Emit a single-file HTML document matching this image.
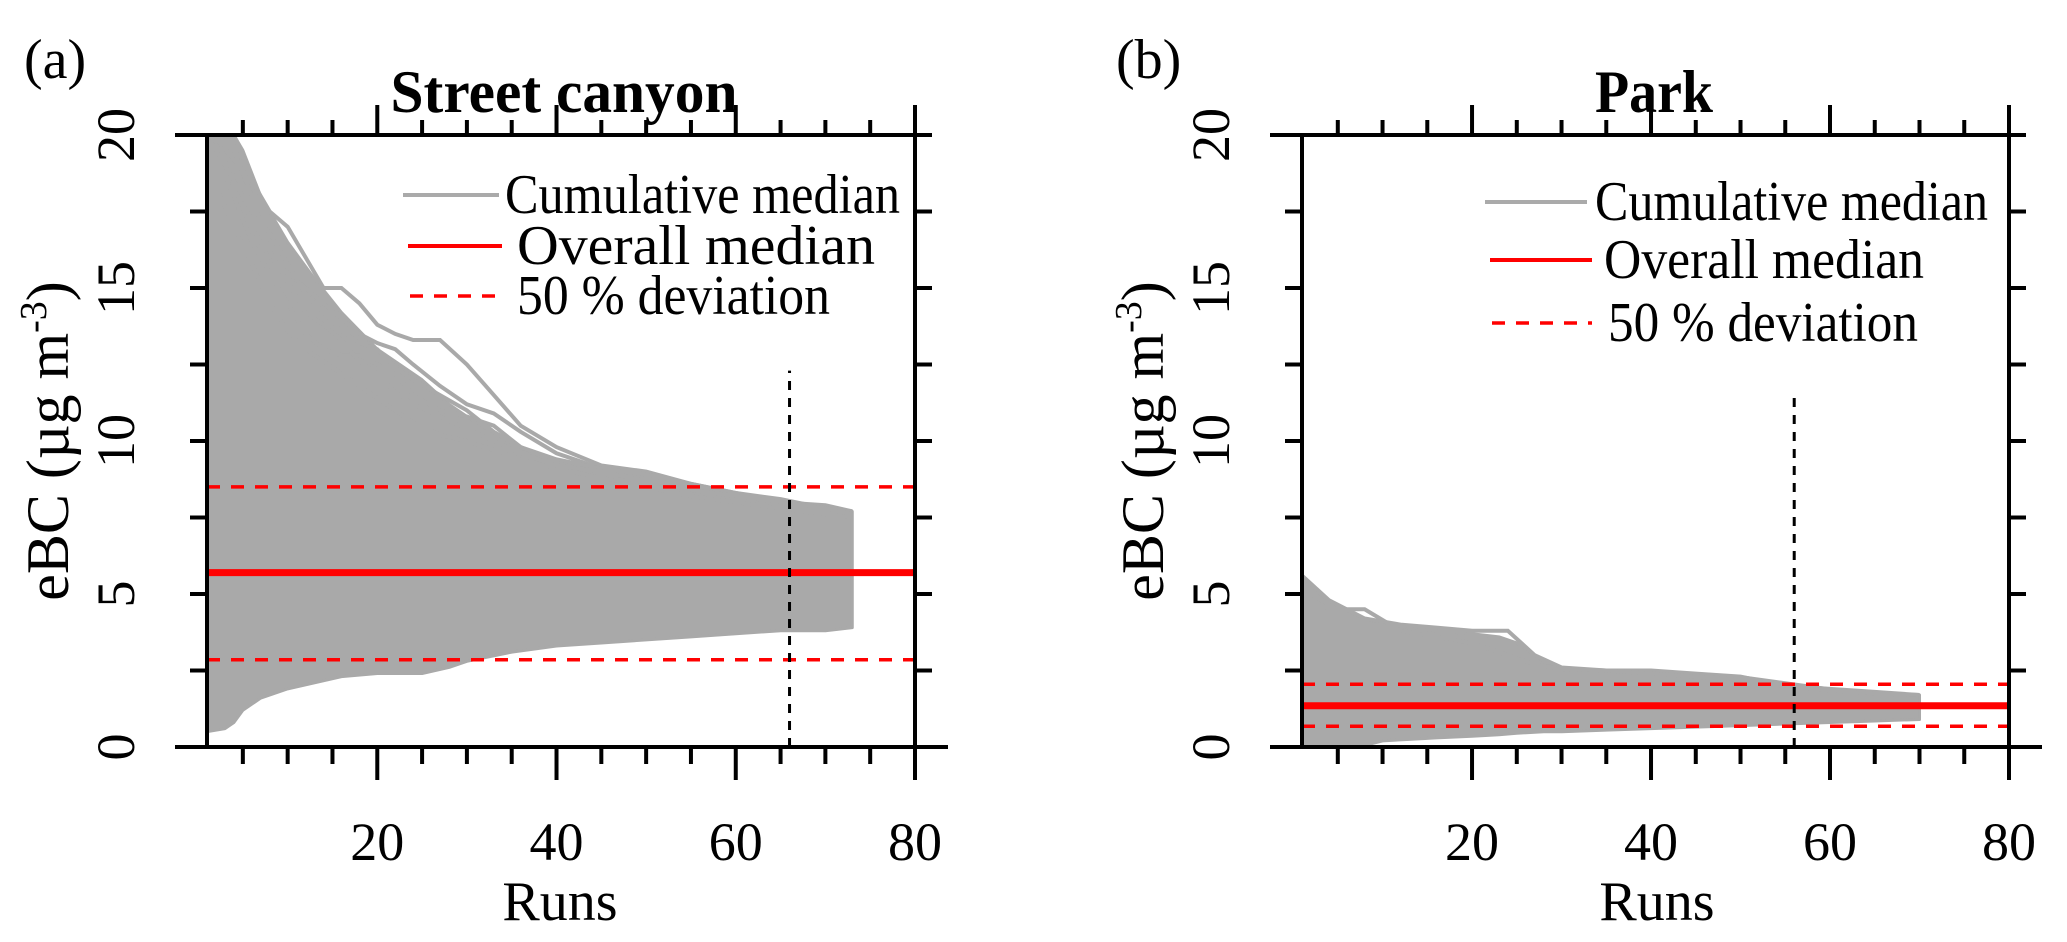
<!DOCTYPE html>
<html><head><meta charset="utf-8"><style>
html,body{margin:0;padding:0;background:#fff;}
svg{display:block;font-family:"Liberation Serif","DejaVu Serif",serif;}
</style></head><body>
<svg id="chart" width="2067" height="942" viewBox="0 0 2067 942" xmlns="http://www.w3.org/2000/svg"></svg>
<script>
// ---- data ----
const envXA = [1, 3, 4, 5, 7, 10, 13, 16, 20, 25, 28, 30, 35, 40, 45, 50, 55, 60, 65, 70, 73];
const envUpperA = [20, 20, 20, 19.5, 18, 16.5, 15.3, 14.2, 13, 12, 11.2, 10.8, 9.9, 9.3, 9.0, 8.7, 8.4, 8.2, 8.0, 7.9, 7.7];
const envLowerA = [0.5, 0.6, 0.8, 1.2, 1.6, 1.9, 2.1, 2.3, 2.4, 2.4, 2.6, 2.8, 3.1, 3.3, 3.4, 3.5, 3.6, 3.7, 3.8, 3.8, 3.9];
const curveXA = [1, 4, 6, 8, 10, 12, 14, 16, 18, 20, 22, 24, 27, 30, 33, 36, 40, 45, 50, 55, 60, 65, 70, 73];
const curvesA = [
  [20, 20, 18.5, 17.5, 17, 16, 15, 15, 14.5, 13.8, 13.5, 13.3, 13.3, 12.5, 11.5, 10.5, 9.8, 9.2, 9.0, 8.6, 8.3, 8.0, 7.9, 7.7],
  [20, 19, 17, 16, 15.5, 15, 14.5, 14, 13.5, 13.2, 13, 12.5, 11.8, 11.2, 10.9, 10.3, 9.6, 9.1, 8.8, 8.5, 8.2, 8.0, 7.8, 7.6],
  [20, 18, 16.5, 15.5, 14.5, 13.5, 13, 12.8, 12.8, 12.5, 12.2, 11.5, 11, 10.8, 10.5, 9.8, 9.3, 8.9, 8.6, 8.3, 8.1, 7.9, 7.7, 7.6],
  [19, 17, 15.8, 14.5, 13.6, 13, 12.6, 12.2, 11.8, 11.4, 11, 10.6, 10.2, 10, 9.7, 9.4, 9.1, 8.8, 8.5, 8.2, 8.0, 7.8, 7.6, 7.5],
  [20, 18.5, 17.5, 16.8, 15.8, 14.8, 14.2, 13.6, 13.2, 13.0, 12.4, 12.0, 11.5, 11.0, 10.3, 9.8, 9.4, 9.1, 8.9, 8.6, 8.3, 8.1, 7.8, 7.7],
  [20, 19.5, 18, 16.2, 15.2, 14.2, 13.8, 13.3, 12.6, 12.2, 11.6, 11.2, 10.8, 10.4, 10.0, 9.6, 9.2, 9.0, 8.7, 8.4, 8.2, 8.0, 7.8, 7.6]
];
const envXB = [1, 3, 5, 8, 10, 13, 16, 20, 23, 25, 28, 30, 35, 40, 45, 50, 55, 60, 65, 70];
const envUpperB = [5.6, 5.0, 4.6, 4.2, 4.0, 3.9, 3.8, 3.7, 3.6, 3.4, 2.8, 2.6, 2.5, 2.45, 2.4, 2.3, 2.1, 1.9, 1.8, 1.7];
const envLowerB = [0, 0, 0, 0.05, 0.2, 0.25, 0.3, 0.35, 0.4, 0.45, 0.5, 0.5, 0.55, 0.6, 0.65, 0.7, 0.75, 0.8, 0.85, 0.9];
const curveXB = [1, 4, 8, 12, 16, 20, 24, 27, 30, 35, 40, 45, 50, 55, 60, 65, 70];
const curvesB = [
  [5.6, 4.8, 4.2, 4.0, 3.9, 3.8, 3.8, 3.0, 2.6, 2.5, 2.5, 2.4, 2.3, 2.0, 1.9, 1.8, 1.7],
  [5.0, 4.5, 4.5, 3.8, 3.6, 3.4, 3.0, 2.7, 2.55, 2.5, 2.4, 2.3, 2.2, 2.0, 1.85, 1.75, 1.7]
];
const medianA = 5.7, devHiA = 8.5, devLoA = 2.85, cutA = 66, cutTopA = 12.3;
const medianB = 1.35, devHiB = 2.05, devLoB = 0.68, cutB = 56, cutTopB = 11.5;
const yTickLabels = [0, 5, 10, 15, 20];
const xTickLabels = [20, 40, 60, 80];

const NS = "http://www.w3.org/2000/svg";
const svg = document.getElementById('chart');
function mk(tag, attrs, parent) {
  const e = document.createElementNS(NS, tag);
  for (const k in attrs) e.setAttribute(k, attrs[k]);
  (parent || svg).appendChild(e);
  return e;
}

function panel(cfg) {
  const L = cfg.left, R = cfg.right, T = 135, B = 747;
  const xs = v => L + (v - 1) * (R - L) / 79;
  const ys = v => B - v * (B - T) / 20;
  const g = mk('g', {});
  
  

  let pts = cfg.envX.map((x, i) => xs(x) + ',' + ys(cfg.up[i]));
  pts = pts.concat(cfg.envX.slice().reverse().map((x, i) => xs(x) + ',' + ys(cfg.lo[cfg.lo.length - 1 - i])));
  const env = mk('polygon', {points: pts.join(' '), fill: '#a9a9a9', stroke: '#a9a9a9', 'stroke-width': 3, 'stroke-linejoin': 'round'}, g);
  
  
  cfg.curves.forEach(c => {
    const p = mk('polyline', {points: cfg.curveX.map((x, i) => xs(x) + ',' + ys(c[i])).join(' '), fill: 'none', stroke: '#a9a9a9', 'stroke-width': 4}, g);
    
    
  });

  const med = mk('line', {x1: L, x2: R, y1: ys(cfg.median), y2: ys(cfg.median), stroke: '#ff0000', 'stroke-width': 7}, g);
  
  
  [cfg.devHi, cfg.devLo].forEach(v => {
    const d = mk('line', {x1: L, x2: R, y1: ys(v), y2: ys(v), stroke: '#ff0000', 'stroke-width': 3.5, 'stroke-dasharray': '13 11'}, g);
    
    
  });
  const cut = mk('line', {x1: xs(cfg.cut), x2: xs(cfg.cut), y1: B, y2: ys(cfg.cutTop), stroke: '#000', 'stroke-width': 3, 'stroke-dasharray': '9 8'}, g);
  
  

  const ax = {stroke: '#000', 'stroke-width': 4, 'stroke-linecap': 'butt'};
  mk('line', Object.assign({x1: L - 32, x2: R + 33, y1: B, y2: B}, ax), g);
  mk('line', Object.assign({x1: L - 32, x2: R, y1: T, y2: T}, ax), g);
  mk('line', Object.assign({x1: L, x2: L, y1: T, y2: B}, ax), g);
  mk('line', Object.assign({x1: R, x2: R, y1: T - 30, y2: B + 33}, ax), g);
  for (let v = 5; v <= 80; v += 5) {
    const major = v % 20 === 0;
    const len = major ? 33 : 17;
    mk('line', Object.assign({x1: xs(v), x2: xs(v), y1: B, y2: B + len}, ax), g);
    if (v < 80) mk('line', Object.assign({x1: xs(v), x2: xs(v), y1: T, y2: T - (major ? 30 : 15)}, ax), g);
  }
  for (let v = 2.5; v <= 20; v += 2.5) {
    mk('line', Object.assign({x1: L, x2: L - 17, y1: ys(v), y2: ys(v)}, ax), g);
    mk('line', Object.assign({x1: R, x2: R + 17, y1: ys(v), y2: ys(v)}, ax), g);
  }
  xTickLabels.forEach(v => {
    const t = mk('text', {x: xs(v), y: 860, 'font-size': 54, 'text-anchor': 'middle'}, g);
    t.textContent = v;
    
    
  });
  yTickLabels.forEach(v => {
    const t = mk('text', {x: 0, y: 0, 'font-size': 54, 'text-anchor': 'middle', transform: `translate(${cfg.tickX},${ys(v)}) rotate(-90)`}, g);
    t.textContent = v;
    
    
  });
  const xl = mk('text', {x: cfg.runsX, y: 920, 'font-size': 56, 'text-anchor': 'middle'}, g);
  xl.textContent = 'Runs';
  
  
  const yl = mk('text', {x: 0, y: 0, 'font-size': 60, 'text-anchor': 'middle', transform: `translate(${cfg.ylabX},441) rotate(-90)`}, g);
  yl.innerHTML = 'eBC (µg m<tspan dy="-22" font-size="38">-3</tspan><tspan dy="22">)</tspan>';
  
  
  const ti = mk('text', {x: cfg.titleX, y: 112, 'font-size': 60, 'font-weight': 'bold', 'text-anchor': 'middle', textLength: cfg.titleW, lengthAdjust: 'spacingAndGlyphs'}, g);
  ti.textContent = cfg.title;
  
  
  const pl = mk('text', {x: cfg.tagX, y: 78, 'font-size': 56}, g);
  pl.textContent = cfg.tag;
  
  

  const lg = cfg.legend;
  const l1 = mk('line', {x1: lg.x1[0], x2: lg.x2[0], y1: lg.y[0], y2: lg.y[0], stroke: '#aaaaaa', 'stroke-width': 4}, g);
  
  const l2 = mk('line', {x1: lg.x1[1], x2: lg.x2[1], y1: lg.y[1], y2: lg.y[1], stroke: '#ff0000', 'stroke-width': 4}, g);
  
  const l3 = mk('line', {x1: lg.x1[2], x2: lg.x2[2], y1: lg.y[2], y2: lg.y[2], stroke: '#ff0000', 'stroke-width': 3.5, 'stroke-dasharray': '13 11'}, g);
  
  ['Cumulative median', 'Overall median', '50 % deviation'].forEach((s, i) => {
    const t = mk('text', {x: lg.tx[i], y: lg.y[i] + 18, 'font-size': 56, textLength: lg.tw[i], lengthAdjust: 'spacingAndGlyphs'}, g);
    t.textContent = s;
    
    
  });
}

panel({name: 'panel-street-canyon', left: 207, right: 915, envX: envXA, up: envUpperA, lo: envLowerA,
  curveX: curveXA, curves: curvesA, median: medianA, devHi: devHiA, devLo: devLoA, cut: cutA, cutTop: cutTopA,
  tickX: 134, ylabX: 68, runsX: 560, titleX: 564, titleW: 347, title: 'Street canyon', tagX: 24, tag: '(a)',
  legend: {x1: [403, 408, 410], x2: [499, 502, 504], y: [195, 246, 296], tx: [505, 517, 517], tw: [395, 358, 313]}});
panel({name: 'panel-park', left: 1302, right: 2009, envX: envXB, up: envUpperB, lo: envLowerB,
  curveX: curveXB, curves: curvesB, median: medianB, devHi: devHiB, devLo: devLoB, cut: cutB, cutTop: cutTopB,
  tickX: 1229, ylabX: 1163, runsX: 1657, titleX: 1654, titleW: 118, title: 'Park', tagX: 1116, tag: '(b)',
  legend: {x1: [1485, 1490, 1492], x2: [1587, 1592, 1592], y: [202, 260, 323], tx: [1595, 1604, 1608], tw: [393, 320, 310]}});
</script>
</body></html>
